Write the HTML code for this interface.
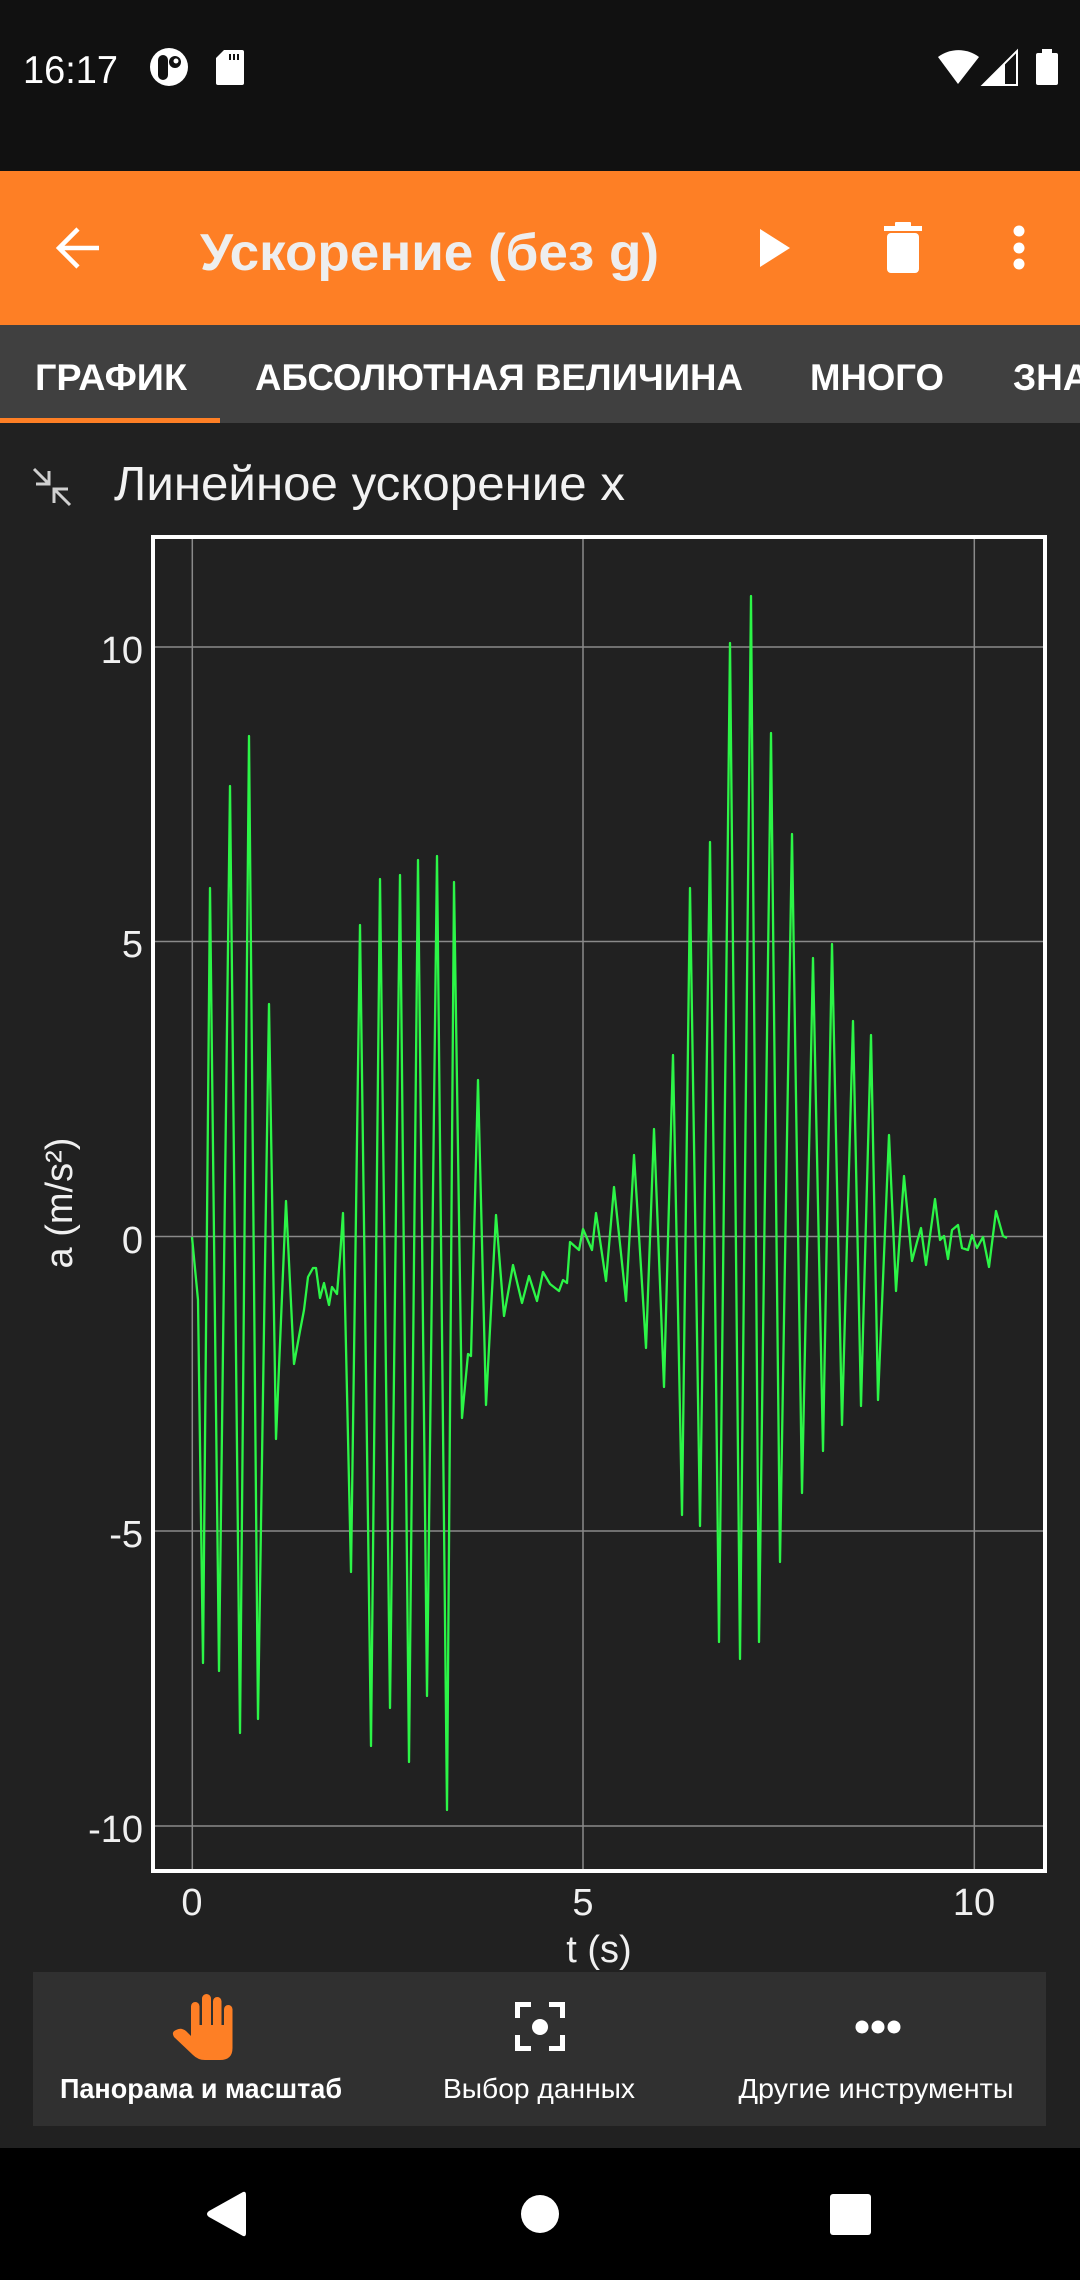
<!DOCTYPE html>
<html>
<head>
<meta charset="utf-8">
<style>
html,body{margin:0;padding:0;background:#212121;width:1080px;height:2280px;overflow:hidden;}
svg{display:block;}
</style>
</head>
<body>
<svg xmlns="http://www.w3.org/2000/svg" width="1080" height="2280" viewBox="0 0 1080 2280" font-family="'Liberation Sans', sans-serif">
  <!-- backgrounds -->
  <rect x="0" y="0" width="1080" height="2280" fill="#212121"/>
  <rect x="0" y="0" width="1080" height="171" fill="#111111"/>
  <rect x="0" y="171" width="1080" height="154" fill="#fe7f25"/>
  <rect x="0" y="325" width="1080" height="98" fill="#404040"/>
  <rect x="0" y="418" width="220" height="5" fill="#fe7f25"/>
  <rect x="0" y="2148" width="1080" height="132" fill="#000000"/>
  <rect x="33" y="1972" width="1013" height="154" fill="#303030"/>

  <!-- status bar -->
  <text x="23" y="83" font-size="39" fill="#ffffff" textLength="95" lengthAdjust="spacingAndGlyphs">16:17</text>
  <circle cx="169" cy="67" r="19" fill="#ffffff"/>
  <rect x="158" y="55" width="10" height="25" rx="5" fill="#111111"/>
  <circle cx="175" cy="62" r="6" fill="#111111"/>
  <circle cx="176" cy="61" r="2.5" fill="#ffffff"/>
  <path d="M224,50 L242,50 Q244,50 244,52 L244,83 Q244,85 242,85 L218,85 Q216,85 216,83 L216,58 Z" fill="#ffffff"/>
  <rect x="229" y="54" width="2" height="6" fill="#111111"/>
  <rect x="233" y="54" width="2" height="6" fill="#111111"/>
  <rect x="237" y="54" width="2" height="6" fill="#111111"/>
  <path d="M958,84 L938,57 A34,34 0 0 1 979,57 Z" fill="#ffffff"/>
  <path d="M983,85 L1017,85 L1017,51 Z" fill="none" stroke="#ffffff" stroke-width="2"/>
  <path d="M983,85 L1005,85 L1005,63 Z" fill="#ffffff"/>
  <rect x="1042" y="49" width="10" height="5" fill="#ffffff"/>
  <rect x="1036" y="53" width="22" height="32" rx="2" fill="#ffffff"/>

  <!-- toolbar -->
  <path d="M99,248 L59,248 M78,229 L59,248 L78,267" fill="none" stroke="#ffffff" stroke-width="4.5"/>
  <text x="200" y="270" font-size="52" font-weight="700" fill="#eeeeee" textLength="459" lengthAdjust="spacingAndGlyphs">Ускорение (без g)</text>
  <polygon points="760,229 790,248 760,267" fill="#ffffff"/>
  <rect x="895" y="222" width="16" height="6" rx="1" fill="#ffffff"/>
  <rect x="884" y="226" width="38" height="5" fill="#ffffff"/>
  <rect x="887" y="233" width="32" height="40" rx="4" fill="#ffffff"/>
  <circle cx="1019" cy="231" r="5.5" fill="#ffffff"/>
  <circle cx="1019" cy="248" r="5.5" fill="#ffffff"/>
  <circle cx="1019" cy="264" r="5.5" fill="#ffffff"/>

  <!-- tabs -->
  <text x="35" y="390" font-size="37" font-weight="700" fill="#ffffff" textLength="152" lengthAdjust="spacingAndGlyphs">ГРАФИК</text>
  <text x="255" y="390" font-size="37" font-weight="700" fill="#ffffff" textLength="488" lengthAdjust="spacingAndGlyphs">АБСОЛЮТНАЯ ВЕЛИЧИНА</text>
  <text x="810" y="390" font-size="37" font-weight="700" fill="#ffffff" textLength="134" lengthAdjust="spacingAndGlyphs">МНОГО</text>
  <text x="1013" y="390" font-size="37" font-weight="700" fill="#ffffff">ЗНАЧЕНИЯ</text>

  <!-- chart title -->
  <g fill="none" stroke="#d0d0d0" stroke-width="3">
    <path d="M34,469 L49,484 M49,471 L49,484 L36,484"/>
    <path d="M70,505 L54,489 M54,503 L54,489 L68,489"/>
  </g>
  <text x="114" y="500" font-size="48" fill="#f2f2f2" textLength="511" lengthAdjust="spacingAndGlyphs">Линейное ускорение x</text>

  <!-- grid -->
  <g stroke="#8a8a8a" stroke-width="1.5">
    <line x1="155" y1="647" x2="1043" y2="647"/>
    <line x1="155" y1="941.5" x2="1043" y2="941.5"/>
    <line x1="155" y1="1236.5" x2="1043" y2="1236.5"/>
    <line x1="155" y1="1531" x2="1043" y2="1531"/>
    <line x1="155" y1="1826" x2="1043" y2="1826"/>
    <line x1="192.3" y1="539" x2="192.3" y2="1869"/>
    <line x1="583" y1="539" x2="583" y2="1869"/>
    <line x1="974.3" y1="539" x2="974.3" y2="1869"/>
  </g>

  <!-- trace -->
  <polyline fill="none" stroke="#2cf547" stroke-width="2.3" stroke-linejoin="round" points="192,1237 198,1300 203,1663 210,888 219,1671 230,786 240,1733 249,736 258,1719 269,1004 276,1439 286,1201 294,1364 300,1331 304,1310 308,1277 313,1268 316,1268 320,1298 324,1283 329,1305 332,1287 337,1294 340,1257 343,1213 351,1572 360,925 371,1746 380,879 390,1708 400,875 409,1762 418,860 427,1696 437,856 447,1810 454,882 462,1418 468,1354 471,1356 478,1080 486,1405 496,1215 504,1316 513,1265 522,1303 529,1276 537,1301 543,1272 550,1284 559,1291 563,1280 567,1283 570,1242 579,1250 583,1229 592,1250 596,1213 606,1281 614,1187 626,1301 634,1155 646,1348 654,1129 664,1387 673,1055 682,1515 690,888 700,1526 710,842 719,1642 730,643 740,1659 751,596 759,1642 771,733 780,1562 792,834 802,1493 813,958 823,1451 832,944 842,1425 853,1021 861,1406 871,1035 878,1400 889,1135 896,1291 904,1176 912,1261 917,1242 921,1228 926,1265 935,1199 940,1240 944,1236 948,1259 952,1230 958,1225 962,1248 968,1250 972,1235 977,1248 983,1237 989,1267 996,1211 1003,1236 1007,1238"/>

  <!-- frame -->
  <rect x="153" y="537" width="892" height="1334" fill="none" stroke="#ffffff" stroke-width="4"/>

  <!-- y ticks -->
  <g font-size="38" fill="#f0f0f0" text-anchor="end">
    <text x="143" y="663">10</text>
    <text x="143" y="957">5</text>
    <text x="143" y="1253">0</text>
    <text x="143" y="1547">-5</text>
    <text x="143" y="1842">-10</text>
  </g>
  <!-- x ticks -->
  <g font-size="38" fill="#f0f0f0" text-anchor="middle">
    <text x="192" y="1915">0</text>
    <text x="583" y="1915">5</text>
    <text x="974" y="1915">10</text>
    <text x="599" y="1962">t (s)</text>
  </g>
  <text transform="translate(72,1203) rotate(-90)" text-anchor="middle" font-size="38" fill="#f0f0f0">a (m/s²)</text>

  <!-- bottom toolbar -->
  <g fill="#fe7f25">
    <rect x="191" y="2002" width="8.5" height="44" rx="4.25"/>
    <rect x="202" y="1994" width="9" height="52" rx="4.5"/>
    <rect x="213" y="1997" width="8.5" height="49" rx="4.25"/>
    <rect x="224" y="2005" width="8.5" height="41" rx="4.25"/>
    <path d="M191,2025 L232.5,2025 L232.5,2048 Q232.5,2060 220,2060 L205,2060 Q198,2060 193,2055 L174,2037 Q171,2032 176,2030 Q181,2027 186,2031 L191,2036 Z"/>
  </g>
  <text x="201" y="2098" font-size="28" font-weight="700" fill="#ffffff" text-anchor="middle" textLength="282" lengthAdjust="spacingAndGlyphs">Панорама и масштаб</text>

  <g fill="none" stroke="#ffffff" stroke-width="5">
    <path d="M517.5,2018 L517.5,2004.5 L531,2004.5"/>
    <path d="M549,2004.5 L562.5,2004.5 L562.5,2018"/>
    <path d="M517.5,2035 L517.5,2048.5 L531,2048.5"/>
    <path d="M549,2048.5 L562.5,2048.5 L562.5,2035"/>
  </g>
  <circle cx="540" cy="2027" r="8" fill="#ffffff"/>
  <text x="539" y="2098" font-size="28" fill="#ffffff" text-anchor="middle" textLength="192" lengthAdjust="spacingAndGlyphs">Выбор данных</text>

  <circle cx="862" cy="2027" r="6.5" fill="#ffffff"/>
  <circle cx="878" cy="2027" r="6.5" fill="#ffffff"/>
  <circle cx="894" cy="2027" r="6.5" fill="#ffffff"/>
  <text x="876" y="2098" font-size="28" fill="#ffffff" text-anchor="middle" textLength="275" lengthAdjust="spacingAndGlyphs">Другие инструменты</text>

  <!-- nav bar -->
  <path d="M243,2192 Q246,2191 246,2195 L246,2233 Q246,2237 243,2236 L209,2217 Q205,2214 209,2211 Z" fill="#ffffff"/>
  <circle cx="540" cy="2214" r="19" fill="#ffffff"/>
  <rect x="830" y="2194" width="41" height="41" rx="3" fill="#ffffff"/>
</svg>
</body>
</html>
